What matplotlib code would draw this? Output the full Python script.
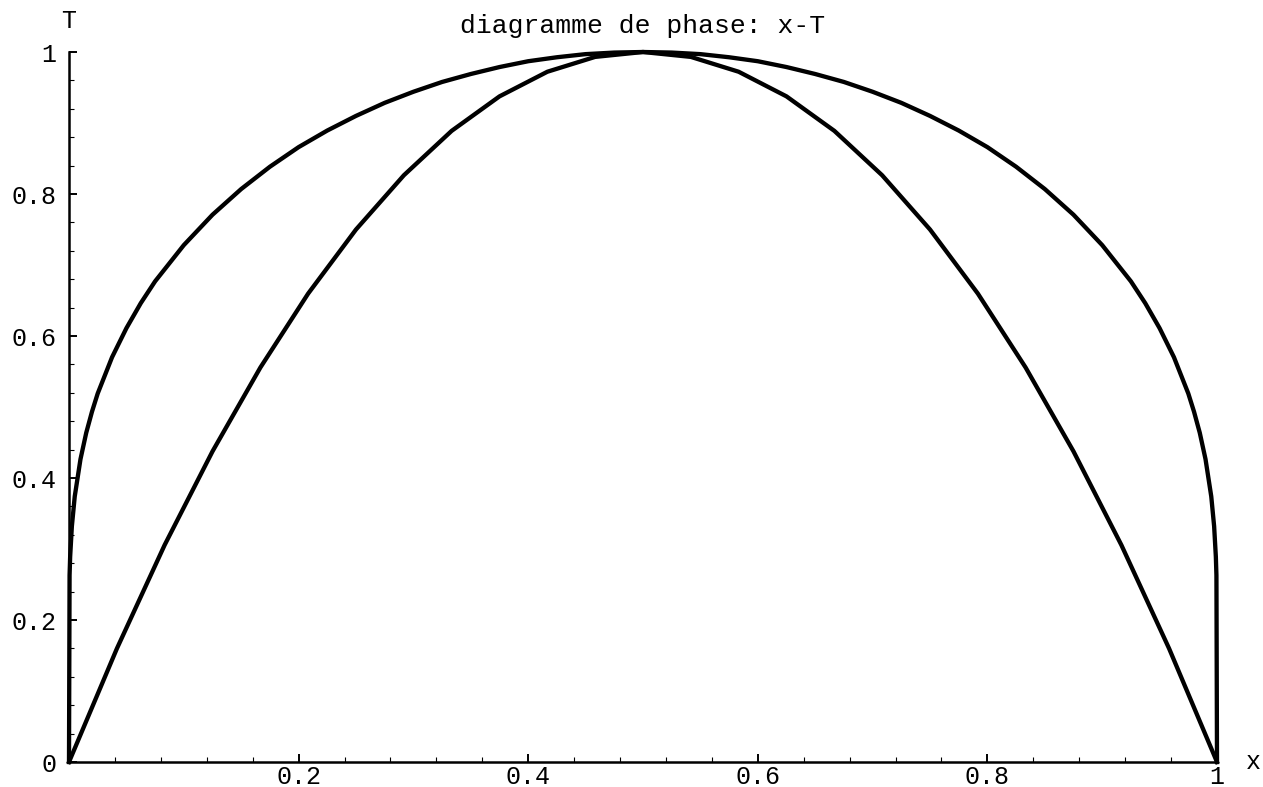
import matplotlib
matplotlib.use('Agg')
import matplotlib.pyplot as plt
from matplotlib.ticker import MultipleLocator, FixedLocator

plt.rcParams['font.family'] = ['Liberation Mono', 'DejaVu Sans Mono']

# courbe de coexistence (binodale)
x_bin = [0.0, 0.0005, 0.001, 0.0025, 0.005, 0.01, 0.015, 0.02, 0.025, 0.0375,
         0.05, 0.0625, 0.075, 0.1, 0.125, 0.15, 0.175, 0.2, 0.225, 0.25,
         0.275, 0.3, 0.325, 0.35, 0.375, 0.4, 0.425, 0.45, 0.475, 0.5,
         0.525, 0.55, 0.575, 0.6, 0.625, 0.65, 0.675, 0.7, 0.725, 0.75,
         0.775, 0.8, 0.825, 0.85, 0.875, 0.9, 0.925, 0.9375, 0.95, 0.9625,
         0.975, 0.98, 0.985, 0.99, 0.995, 0.9975, 0.999, 0.9995, 1.0]
T_bin = [0.0, 0.263, 0.289, 0.332, 0.374, 0.4265, 0.4636, 0.4933, 0.519, 0.5701,
         0.611, 0.6462, 0.677, 0.728, 0.7708, 0.807, 0.8384, 0.866, 0.8894, 0.910,
         0.9284, 0.944, 0.9578, 0.969, 0.9788, 0.987, 0.9926, 0.997, 0.9992, 1.0,
         0.9992, 0.997, 0.9926, 0.987, 0.9788, 0.969, 0.9578, 0.944, 0.9284, 0.910,
         0.8894, 0.866, 0.8384, 0.807, 0.7708, 0.728, 0.677, 0.6462, 0.611, 0.5701,
         0.519, 0.4933, 0.4636, 0.4265, 0.374, 0.332, 0.289, 0.263, 0.0]

# courbe spinodale
x_spi = [0.0, 0.0417, 0.0833, 0.125, 0.1667, 0.2083, 0.25, 0.2917, 0.3333,
         0.375, 0.4167, 0.4583, 0.5, 0.5417, 0.5833, 0.625, 0.6667, 0.7083,
         0.75, 0.7917, 0.8333, 0.875, 0.9167, 0.9583, 1.0]
T_spi = [0.0, 0.1597, 0.3056, 0.4375, 0.5556, 0.6597, 0.75, 0.8264, 0.8889,
         0.9375, 0.9722, 0.9931, 1.0, 0.9931, 0.9722, 0.9375, 0.8889, 0.8264,
         0.75, 0.6597, 0.5556, 0.4375, 0.3056, 0.1597, 0.0]

x_ticks = [0.2, 0.4, 0.6, 0.8, 1.0]
x_labels = ['0.2', '0.4', '0.6', '0.8', '1']
y_ticks = [0.0, 0.2, 0.4, 0.6, 0.8, 1.0]
y_labels = ['0', '0.2', '0.4', '0.6', '0.8', '1']

W, H = 1263, 787
fig = plt.figure(figsize=(W / 100, H / 100), dpi=100)
ax = fig.add_axes([69 / W, 25 / H, 1148 / W, 710 / H])

ax.plot(x_bin, T_bin, color='black', lw=3.1, clip_on=False, solid_joinstyle='round')
ax.plot(x_spi, T_spi, color='black', lw=3.1, clip_on=False, solid_joinstyle='round')

ax.set_xlim(0, 1)
ax.set_ylim(0, 1)
for side in ('top', 'right'):
    ax.spines[side].set_visible(False)
for side in ('left', 'bottom'):
    ax.spines[side].set_linewidth(1.8)

ax.xaxis.set_major_locator(FixedLocator(x_ticks))
ax.set_xticklabels(x_labels)
ax.xaxis.set_minor_locator(MultipleLocator(0.04))
ax.yaxis.set_major_locator(FixedLocator(y_ticks))
ax.set_yticklabels(y_labels)
ax.yaxis.set_minor_locator(MultipleLocator(0.04))

ax.tick_params(which='major', direction='in', length=6, width=1.4, labelsize=18)
ax.tick_params(which='minor', direction='in', length=3.5, width=0.8)
ax.tick_params(axis='x', which='major', pad=2.5)
ax.tick_params(axis='y', which='major', pad=9)

fig.text(643 / W, 1 - 33 / H, 'diagramme de phase: x-T', ha='center',
         va='baseline', fontsize=19)
fig.text(69 / W, 1 - 21 / H, 'T', ha='center', va='center', fontsize=18)
fig.text(1253 / W, 1 - 762 / H, 'x', ha='center', va='center', fontsize=18)

fig.savefig('out.png', dpi=100)
